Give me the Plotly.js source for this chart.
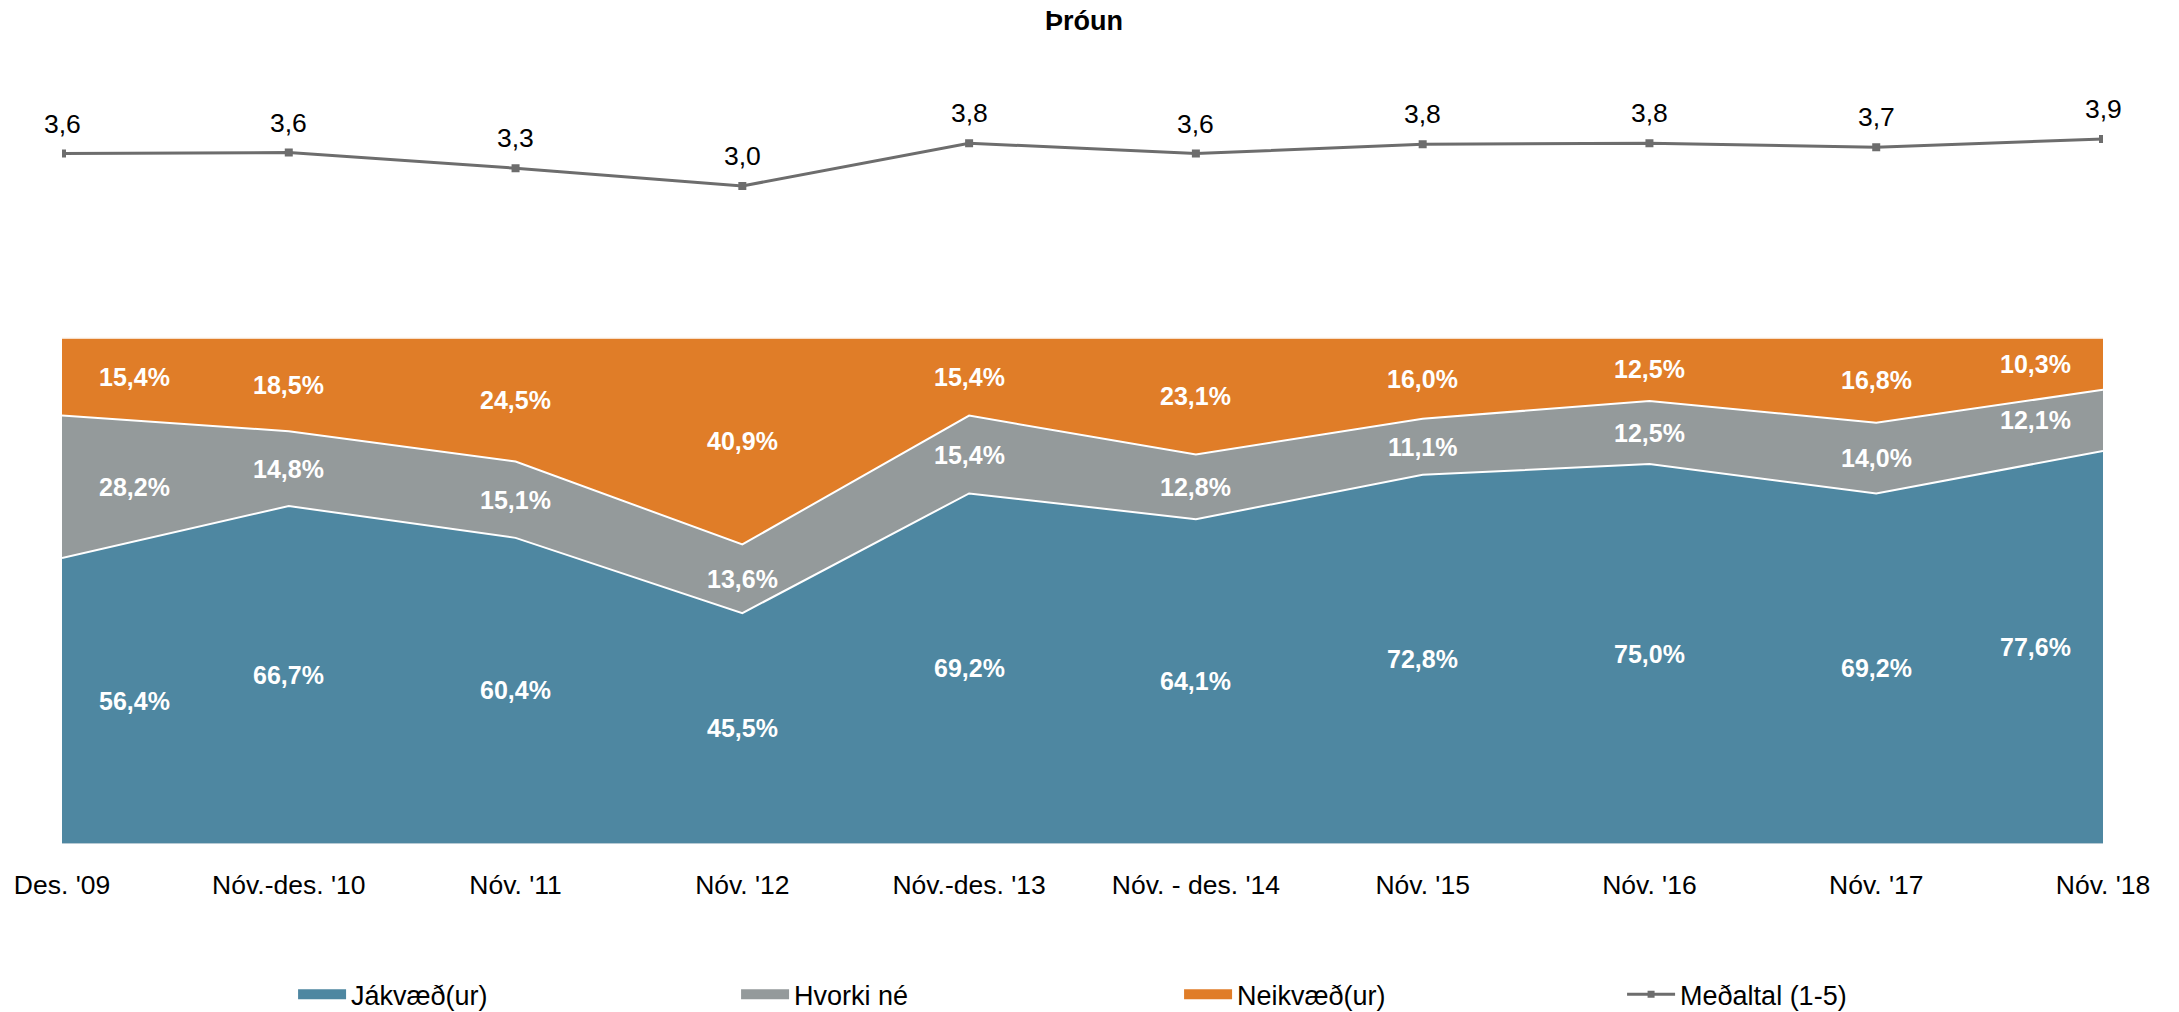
<!DOCTYPE html>
<html>
<head>
<meta charset="utf-8">
<script src="https://cdn.plot.ly/plotly-3.0.1.min.js"></script>
<style>html,body{margin:0;padding:0;background:#fff;}#chart{width:2179px;height:1012px;}</style>
</head>
<body>
<div id="chart"></div>
<script>
const categories = ["Des. '09", "Nóv.-des. '10", "Nóv. '11", "Nóv. '12", "Nóv.-des. '13", "Nóv. - des. '14", "Nóv. '15", "Nóv. '16", "Nóv. '17", "Nóv. '18"];
const jakvaed = [56.4, 66.7, 60.4, 45.5, 69.2, 64.1, 72.8, 75.0, 69.2, 77.6];
const hvorki = [28.2, 14.8, 15.1, 13.6, 15.4, 12.8, 11.1, 12.5, 14.0, 12.1];
const neikvaed = [15.4, 18.5, 24.5, 40.9, 15.4, 23.1, 16.0, 12.5, 16.8, 10.3];
const medaltal = [3.62, 3.64, 3.34, 3.00, 3.82, 3.62, 3.80, 3.82, 3.74, 3.90];

const seriesNames = ['Jákvæð(ur)', 'Hvorki né', 'Neikvæð(ur)', 'Meðaltal (1-5)'];
const colors = ['#4E87A1', '#949A9B', '#E07D28', '#6D6D6D'];

const FONT = 'Liberation Sans, Arial, Helvetica, sans-serif';

const stacks = [jakvaed, hvorki, neikvaed];
const traces = [];
stacks.forEach((vals, i) => {
  traces.push({
    type: 'scatter', mode: 'lines', x: categories, y: vals,
    stackgroup: 'one', groupnorm: i === 0 ? 'percent' : undefined,
    fillcolor: colors[i], line: {color: '#ffffff', width: 2, shape: 'linear'},
    xaxis: 'x', yaxis: 'y', showlegend: false, hoverinfo: 'skip', name: seriesNames[i]
  });
});
traces.push({
  type: 'scatter', mode: 'lines+markers', x: categories, y: medaltal,
  xaxis: 'x', yaxis: 'y2', line: {color: colors[3], width: 3},
  marker: {symbol: 'square', size: 8, color: colors[3]},
  showlegend: false, hoverinfo: 'skip', name: seriesNames[3]
});
// legend entries
for (let i = 0; i < 3; i++) {
  traces.push({type: 'scatter', mode: 'lines', x: [null], y: [null], name: seriesNames[i],
    line: {color: colors[i], width: 14}, showlegend: true, hoverinfo: 'skip'});
}
traces.push({type: 'scatter', mode: 'lines+markers', x: [null], y: [null], name: seriesNames[3],
  line: {color: colors[3], width: 3}, marker: {symbol: 'square', size: 7, color: colors[3]},
  showlegend: true, hoverinfo: 'skip'});

const fmt = v => v.toFixed(1).replace('.', ',');
const annotations = [];
const n = categories.length;
for (let j = 0; j < n; j++) {
  let base = 0;
  const xs = j === 0 ? 72 : (j === n - 1 ? -68 : 0);
  stacks.forEach(vals => {
    const mid = base + vals[j] / 2;
    base += vals[j];
    annotations.push({x: categories[j], y: mid, xref: 'x', yref: 'y', text: fmt(vals[j]) + '%',
      showarrow: false, xshift: xs,
      font: {family: FONT, size: 25, color: '#ffffff', weight: 'bold'}});
  });
  annotations.push({x: categories[j], y: medaltal[j], xref: 'x', yref: 'y2', text: fmt(medaltal[j]),
    showarrow: false, yshift: 30, font: {family: FONT, size: 26.5, color: '#000000'}});
}

const layout = {
  width: 2179, height: 1012,
  paper_bgcolor: '#ffffff', plot_bgcolor: 'rgba(0,0,0,0)',
  separators: ', ',
  margin: {l: 62, r: 76, t: 60, b: 168.5, autoexpand: false},
  font: {family: FONT, color: '#000000'},
  title: {text: 'Þróun', x: 0.4975, xref: 'container', y: 0.980, yref: 'container', yanchor: 'middle',
    font: {family: FONT, size: 27, weight: 'bold', color: '#000000'}},
  xaxis: {type: 'category', range: [0, n - 1], showgrid: false, zeroline: false, ticks: '',
    showline: true, linecolor: '#b7cad4', linewidth: 1, automargin: false,
    tickfont: {family: FONT, size: 26.5, color: '#000000'}, ticklabelstandoff: 18, fixedrange: true},
  yaxis: {domain: [0, 0.6452], range: [0, 100], visible: false, showgrid: false, zeroline: false},
  yaxis2: {domain: [0.6393, 0.9724], range: [0, 5], visible: false, showgrid: false, zeroline: false, anchor: 'x'},
  showlegend: true,
  legend: {orientation: 'h', traceorder: 'normal', xref: 'container', yref: 'container',
    x: 0.1345, xanchor: 'left', y: 0.017, yanchor: 'middle', itemwidth: 48,
    entrywidth: 380, entrywidthmode: 'pixels', font: {family: FONT, size: 27, color: '#000000'},
    bgcolor: 'rgba(0,0,0,0)'},
  annotations: annotations,
  hovermode: false
};

Plotly.newPlot('chart', traces, layout, {displayModeBar: false, staticPlot: true});
</script>
</body>
</html>
